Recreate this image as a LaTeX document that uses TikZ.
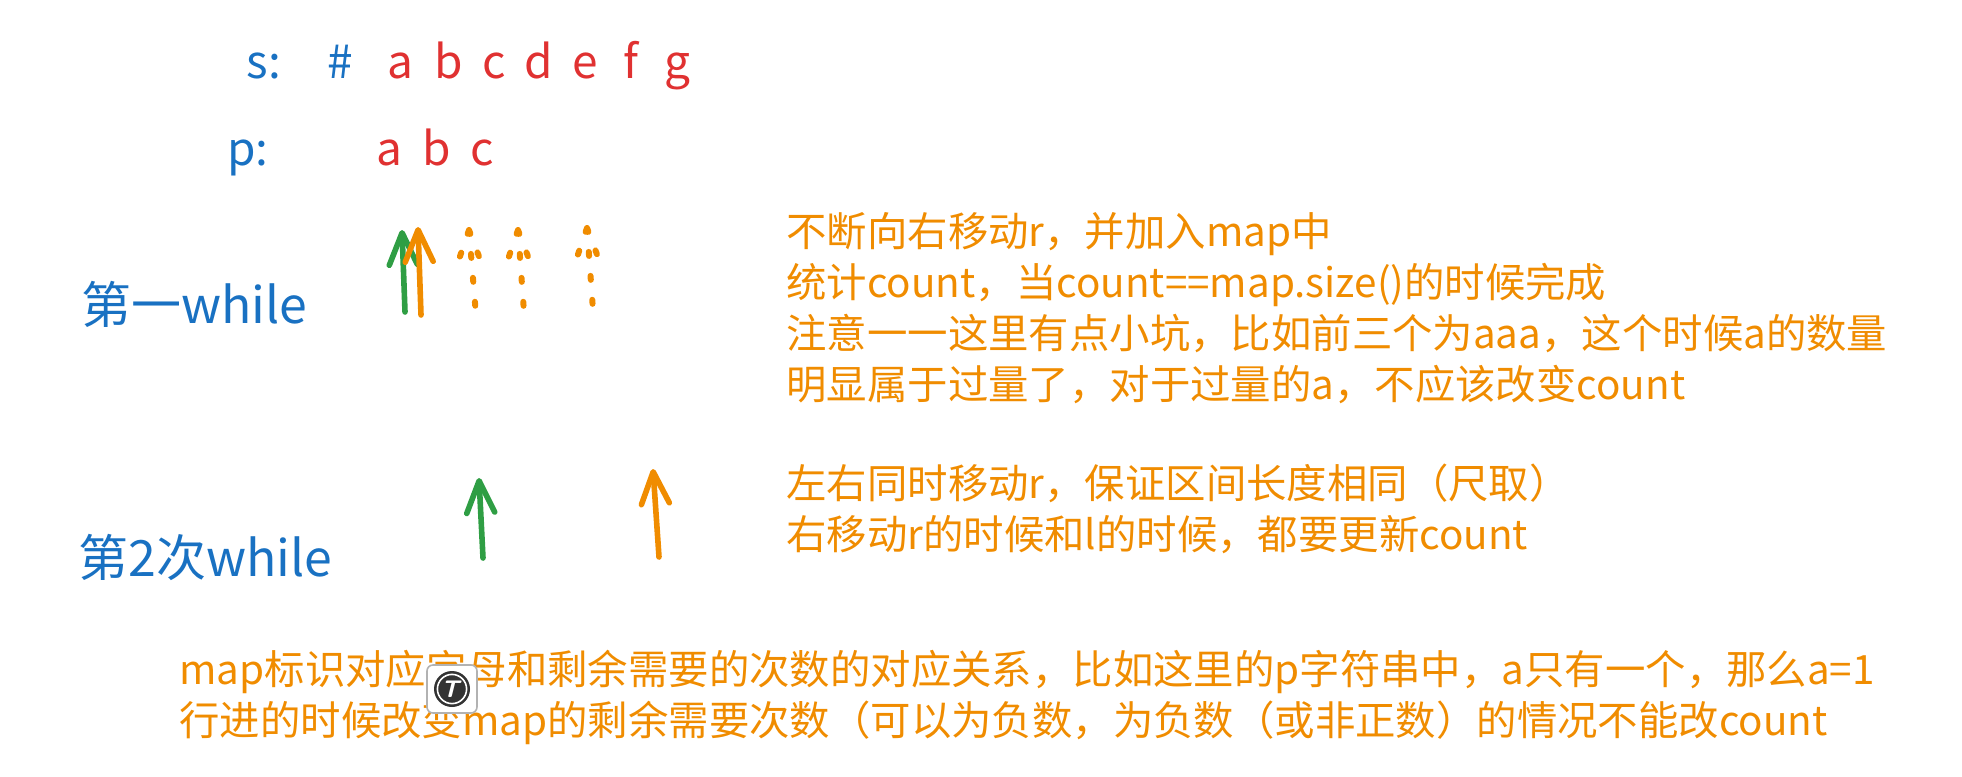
\documentclass[tikz,border=0pt]{standalone}
\usepackage{fontspec}
\setmainfont{Noto Sans CJK SC}
\usetikzlibrary{arrows.meta, positioning}

\definecolor{skblue}{HTML}{1971C2}
\definecolor{skred}{HTML}{E03131}
\definecolor{skorange}{HTML}{F08C00}
\definecolor{skgreen}{HTML}{2F9E44}

\begin{document}
\begin{tikzpicture}[
        x=0.5pt, y=-0.5pt,
        loopname/.style={inner sep=0pt, anchor=west, text=skblue, font=\fontsize{25}{30}\selectfont},
        letter/.style={inner sep=0pt, anchor=base, font=\fontsize{23}{28}\selectfont},
        note/.style={inner sep=0pt, anchor=west, align=left, text=skorange, font=\fontsize{20.2}{25.5}\selectfont},
        pointer/.style={line width=2.8pt, line cap=round, line join=round, -{Straight Barb[length=16pt, width=14pt, round]}},
        dotpointer/.style={line width=3pt, line cap=round, skorange, dash pattern=on 2pt off 10pt}
    ]
    \useasboundingbox (0,0) rectangle (1962,776);

    % the two strings
    \node (s) [letter, text=skblue] at (264,78) {s:};
    \node (hash) [letter, text=skblue] at (340,78) {\#};
    \foreach \ch/\xx in {a/400, b/449, c/494, d/539, e/585, f/631, g/677}
        \node (s\ch) [letter, text=skred] at (\xx,78) {\ch};
    \node (p) [letter, text=skblue] at (248,165) {p:};
    \foreach \ch/\xx in {a/389, b/437, c/482}
        \node (p\ch) [letter, text=skred] at (\xx,165) {\ch};

    % loop names
    \node (first) [loopname] at (81,304) {第一while};
    \node (second) [loopname] at (78,557) {第2次while};

    % pointers, first while
    \coordinate (lA) at (405,312); \coordinate (lA') at (402,230);
    \coordinate (rA) at (421,315); \coordinate (rA') at (418,227);
    \draw [pointer, skgreen] (lA) -- (lA');
    \draw [pointer, skorange] (rA) -- (rA');
    \foreach \n/\xb/\xt/\yb/\yt in {1/476/469/315/230, 2/524/518/312/230, 3/593/587/310/228} {
        \coordinate (d\n) at (\xb,\yb); \coordinate (d\n') at (\xt,\yt);
        \draw [dotpointer] (d\n') -- (d\n) (d\n') -- ++(-13,38) (d\n') -- ++(14,37);
    }

    % pointers, second while
    \coordinate (lB) at (483,558); \coordinate (lB') at (479,478);
    \coordinate (rB) at (659,557); \coordinate (rB') at (653,469);
    \draw [pointer, skgreen] (lB) -- (lB');
    \draw [pointer, skorange] (rB) -- (rB');

    % notes
    \node (note1) [note] at (786,308) {不断向右移动r，并加入map中\\统计count，当count==map.size()的时候完成\\注意一一这里有点小坑，比如前三个为aaa，这个时候a的数量\\明显属于过量了，对于过量的a，不应该改变count};
    \node (note2) [note] at (786,509) {左右同时移动r，保证区间长度相同（尺取）\\右移动r的时候和l的时候，都要更新count};
    \node (note3) [note] at (179,697) {map标识对应字母和剩余需要的次数的对应关系，比如这里的p字符串中，a只有一个，那么a=1\\行进的时候改变map的剩余需要次数（可以为负数，为负数（或非正数）的情况不能改count};

    % small badge over the text
    \node (badge) [draw=black!30, fill=white, rounded corners=3pt, line width=0.8pt, minimum width=25pt, minimum height=24pt] at (452,689) {};
    \fill [black!80] (badge.center) circle (9pt);
    \draw [white, line width=0.8pt] (badge.center) circle (7.3pt);
    \node [text=white, font=\sffamily\bfseries\fontsize{12}{12}\selectfont, xslant=0.25] at (badge.center) {T};
\end{tikzpicture}
\end{document}
